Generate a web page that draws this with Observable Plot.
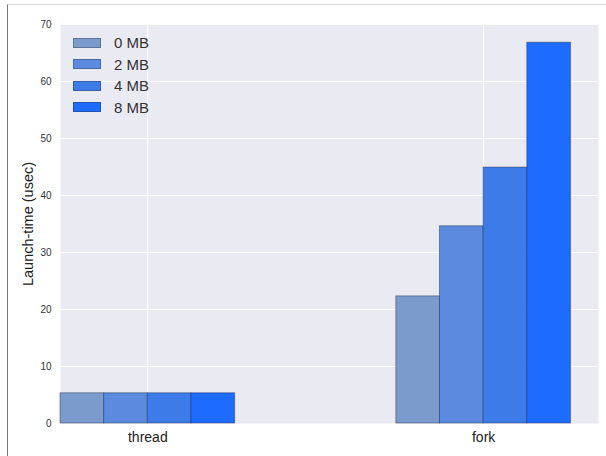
<!DOCTYPE html>
<html>
<head>
<meta charset="utf-8">
<script src="https://cdn.jsdelivr.net/npm/d3@7"></script>
<script src="https://cdn.jsdelivr.net/npm/@observablehq/plot@0.6"></script>
<style>
  html, body { margin: 0; padding: 0; background: #fff; }
  #wrap { position: relative; width: 606px; height: 456px; font-family: "Liberation Sans", Arial, sans-serif; overflow: hidden; }
  #frame { position: absolute; left: 7px; top: 4px; right: -2px; bottom: -2px; border-left: 1px solid #777; border-top: 1px solid #ddd; pointer-events: none; }
  #chart { position: absolute; left: 0; top: 0; }
  #legend { position: absolute; left: 73px; top: 32px; }
  .row { display: flex; align-items: center; height: 21.5px; }
  .sw { width: 28px; height: 10px; border: 1px solid rgba(40,40,60,0.35); box-sizing: border-box; }
  .lb { margin-left: 13px; font-size: 15px; color: #333; }
</style>
</head>
<body>
<div id="wrap">
  <div id="chart"></div>
  <div id="legend"></div>
  <div id="frame"></div>
</div>
<script>
const groups = ["thread", "fork"];
const sizes = ["0 MB", "2 MB", "4 MB", "8 MB"];
const threadValues = [5.3, 5.3, 5.3, 5.3];
const forkValues = [22.3, 34.6, 44.9, 66.8];
const colors = ["#7b9bcc", "#5b8ade", "#3d7be9", "#1e6bff"];
const yTicks = [0, 10, 20, 30, 40, 50, 60, 70];

const groupValues = [threadValues, forkValues];
const barWidth = 0.13;
const groupStart = -0.26;

const data = groups.flatMap((g, gi) => sizes.map((s, si) => ({
  group: g, gi, size: s, si, value: groupValues[gi][si]
})));

const chart = Plot.plot({
  width: 606,
  height: 456,
  marginLeft: 60,
  marginRight: 8,
  marginTop: 24,
  marginBottom: 33,
  style: { fontFamily: '"Liberation Sans", Arial, sans-serif', background: "transparent", overflow: "visible" },
  x: { domain: [-0.26, 1.342] },
  y: { domain: [0, 70] },
  color: { domain: sizes, range: colors },
  marks: [
    Plot.frame({ fill: "#eaeaf2", stroke: null }),
    Plot.gridX([0, 1], { stroke: "#fff", strokeOpacity: 1, strokeWidth: 1 }),
    Plot.gridY(yTicks.slice(1), { stroke: "#fff", strokeOpacity: 1, strokeWidth: 1 }),
    Plot.rect(data, {
      x1: d => d.gi + groupStart + d.si * barWidth,
      x2: d => d.gi + groupStart + (d.si + 1) * barWidth,
      y1: 0,
      y2: "value",
      fill: "size",
      stroke: "#1a2a4a",
      strokeOpacity: 0.45,
      strokeWidth: 1
    }),
    Plot.axisY(yTicks, { tickSize: 0, tickPadding: 9, fontSize: 10, fill: "#333", label: null }),
    Plot.axisX([0, 1], { tickSize: 0, tickPadding: 9, fontSize: 14, fill: "#222", label: null, tickFormat: i => groups[i] }),
    Plot.text(["Launch-time (usec)"], { frameAnchor: "left", textAnchor: "middle", dx: -32, rotate: -90, fontSize: 14.5, fill: "#222" })
  ]
});
document.getElementById("chart").appendChild(chart);

const legend = document.getElementById("legend");
sizes.forEach((s, i) => {
  const row = document.createElement("div");
  row.className = "row";
  const sw = document.createElement("div");
  sw.className = "sw";
  sw.style.background = colors[i];
  const lb = document.createElement("span");
  lb.className = "lb";
  lb.textContent = s;
  row.appendChild(sw);
  row.appendChild(lb);
  legend.appendChild(row);
});
</script>
</body>
</html>
